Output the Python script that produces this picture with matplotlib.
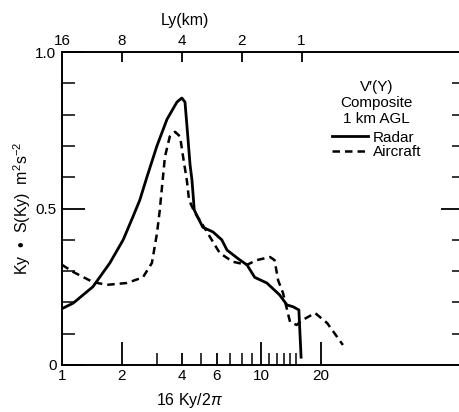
import matplotlib
matplotlib.use("Agg")
import matplotlib.pyplot as plt
from matplotlib.lines import Line2D

plt.rcParams['font.family'] = ['Liberation Sans', 'DejaVu Sans']
plt.rcParams['mathtext.fontset'] = 'custom'
plt.rcParams['mathtext.rm'] = 'Liberation Sans'
plt.rcParams['mathtext.it'] = 'Liberation Sans:italic'

# radar (solid)
radar_k = [1.0, 1.14, 1.43, 1.74, 2.03, 2.27, 2.46, 2.67, 3.0, 3.37, 3.78, 4.0, 4.15,
           4.25, 4.4, 4.5, 4.62, 5.1, 5.74, 6.35, 6.75, 7.85, 8.5, 9.3, 10.7, 12.4,
           13.5, 14.5, 15.5, 15.7, 15.9]
radar_s = [0.18, 0.198, 0.25, 0.326, 0.40, 0.473, 0.527, 0.60, 0.70, 0.785, 0.84, 0.853,
           0.84, 0.76, 0.64, 0.59, 0.495, 0.44, 0.425, 0.40, 0.367, 0.335, 0.32, 0.28,
           0.262, 0.224, 0.192, 0.186, 0.176, 0.1, 0.025]

# aircraft (dashed)
air_k = [1.0, 1.14, 1.43, 1.68, 2.12, 2.55, 2.83, 3.0, 3.1, 3.29, 3.48, 3.7, 3.92, 4.06,
         4.24, 4.35, 4.66, 5.1, 5.74, 6.2, 7.2, 8.5, 9.5, 11.1, 11.7, 12.2, 12.9, 14.0,
         15.1, 16.2, 18.7, 21.5, 25.8]
air_s = [0.32, 0.297, 0.265, 0.256, 0.262, 0.28, 0.326, 0.42, 0.495, 0.665, 0.73, 0.745,
         0.73, 0.665, 0.59, 0.527, 0.485, 0.447, 0.393, 0.358, 0.33, 0.32, 0.335, 0.345,
         0.335, 0.27, 0.23, 0.137, 0.128, 0.144, 0.166, 0.134, 0.064]

bottom_ticks = [1, 2, 4, 6, 10, 20]
bottom_minor = [3, 5, 7, 8, 9, 11, 12, 13, 14, 15]
top_ticks = [1, 2, 4, 8, 16]
top_labels = ['16', '8', '4', '2', '1']

fig = plt.figure(figsize=(4.6, 4.12), dpi=100)
ax = fig.add_axes([62/460, 1-365/412, 398/460, 313/412])

ax.plot(radar_k, radar_s, color='black', lw=2.0, label='Radar')
ax.plot(air_k, air_s, color='black', lw=1.8, ls=(0, (3, 2)), label='Aircraft')

ax.set_xscale('log')
ax.set_xlim(1, 100)
ax.set_ylim(0, 1.0)
ax.spines['right'].set_visible(False)
for s in ['left', 'bottom', 'top']:
    ax.spines[s].set_linewidth(1.4)

# bottom axis
ax.set_xticks(bottom_ticks)
ax.set_xticklabels([str(t) for t in bottom_ticks], fontsize=11)
ax.set_xticks(bottom_minor, minor=True)
ax.xaxis.set_minor_formatter(plt.NullFormatter())
ax.tick_params(axis='x', which='major', direction='in', length=16.5, width=1.3, pad=3)
ax.tick_params(axis='x', which='minor', direction='in', length=8.5, width=1.1)
for t, v in zip(ax.xaxis.get_major_ticks(), bottom_ticks):
    if v in (1, 4, 6):
        t.tick1line.set_markersize(0 if v == 1 else 8.5)
ax.set_xlabel('16 Ky/2$\\pi$', fontsize=11.5, labelpad=6, x=0.32)

# left axis
ax.set_yticks([0, 0.5, 1.0])
ax.set_yticklabels(['0', '0.5', '1.0'], fontsize=11)
ax.set_yticks([0.1, 0.2, 0.3, 0.4, 0.6, 0.7, 0.8, 0.9], minor=True)
ax.tick_params(axis='y', which='major', direction='in', length=16.5, width=1.3, pad=4)
ax.tick_params(axis='y', which='minor', direction='in', length=9.5, width=1.1)
ax.set_ylabel('Ky  •  S(Ky)  m$^{2}$s$^{-2}$', fontsize=11.5, labelpad=2)

# right ticks
ay = ax.secondary_yaxis('right')
ay.set_yticks([0.5])
ay.set_yticks([0.1, 0.2, 0.3, 0.4, 0.6, 0.7, 0.8, 0.9], minor=True)
ay.set_yticklabels([])
ay.tick_params(which='major', direction='in', length=14, width=1.3)
ay.tick_params(which='minor', direction='in', length=6, width=1.1)
ay.spines['right'].set_visible(False)

# top axis, Ly in km
at = ax.secondary_xaxis('top')
at.set_xticks(top_ticks)
at.set_xticklabels(top_labels, fontsize=11)
at.xaxis.set_minor_locator(plt.NullLocator())
at.tick_params(direction='in', length=7.5, width=1.3, pad=3)
at.xaxis.get_major_ticks()[0].tick1line.set_markersize(0)
at.xaxis.get_major_ticks()[0].tick2line.set_markersize(0)
at.set_xlabel('Ly(km)', fontsize=11.5, labelpad=6, x=0.31)
at.spines['top'].set_visible(False)

handles = [Line2D([], [], color='black', lw=2.0),
           Line2D([], [], color='black', lw=1.8, ls=(0, (3, 2)))]
leg = ax.legend(handles, ['Radar', 'Aircraft'], title="V′(Y)\nComposite\n1 km AGL",
                loc='upper center', bbox_to_anchor=(0.79, 0.935), frameon=False,
                fontsize=11, title_fontsize=11, handlelength=2.4, handletextpad=0.3,
                labelspacing=0.05, borderpad=0)
leg.get_title().set_multialignment('center')
leg._legend_box.sep = 3

fig.savefig('out.png', dpi=100)
